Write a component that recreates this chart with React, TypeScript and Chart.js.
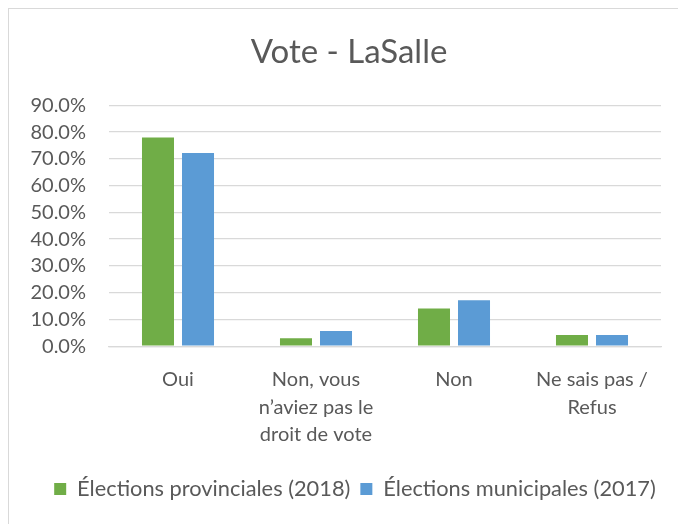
import React, { useEffect, useRef } from "react";
import { Chart, registerables } from "chart.js";

Chart.register(...registerables);

const categories: (string | string[])[] = [
  "Oui",
  ["Non, vous", "n’aviez pas le", "droit de vote"],
  "Non",
  ["Ne sais pas /", "Refus"],
];
const provinciales2018 = [78.0, 3.0, 14.1, 4.2];
const municipales2017 = [72.2, 5.7, 17.2, 4.2];
const seriesNames = ["Élections provinciales (2018)", "Élections municipales (2017)"];
const yTicksMax = 90;
const yStep = 10;

const FONT = "Lato";
const TEXT = "#595959";
const GRID = "#D9D9D9";

const legendShift = {
  id: "legendShift",
  afterLayout(chart: any) {
    const lg = chart.legend;
    if (lg) {
      lg.left += 6;
      lg.right += 6;
    }
  },
};

export default function App() {
  const ref = useRef<HTMLCanvasElement | null>(null);
  useEffect(() => {
    document.documentElement.style.overflow = "hidden";
    document.body.style.overflow = "hidden";
    if (!ref.current) return;
    const chart = new Chart(ref.current, {
      type: "bar",
      data: {
        labels: categories,
        datasets: [
          {
            label: seriesNames[0],
            data: provinciales2018,
            backgroundColor: "#70AD47",
            categoryPercentage: 0.58,
            barPercentage: 0.8,
          },
          {
            label: seriesNames[1],
            data: municipales2017,
            backgroundColor: "#5B9BD5",
            categoryPercentage: 0.58,
            barPercentage: 0.8,
          },
        ],
      },
      plugins: [legendShift],
      options: {
        animation: false,
        responsive: false,
        maintainAspectRatio: false,
        layout: { padding: { left: 0, right: 0, top: 0, bottom: 19 } },
        plugins: {
          tooltip: { enabled: false },
          title: {
            display: true,
            text: "Vote - LaSalle",
            color: TEXT,
            font: { family: FONT, size: 33, weight: "normal", lineHeight: 1.2 },
            padding: { top: 23.2, bottom: 33.5 },
          },
          legend: {
            position: "bottom",
            labels: {
              color: TEXT,
              font: { family: FONT, size: 21.8 },
              boxWidth: 12,
              boxHeight: 12,
              padding: 10,
            },
          },
        },
        scales: {
          x: {
            grid: { display: false, drawTicks: false },
            border: { display: true, color: GRID, width: 1.3 },
            ticks: {
              color: TEXT,
              font: { family: FONT, size: 20, lineHeight: 1.375 },
              padding: 20,
              maxRotation: 0,
              autoSkip: false,
            },
            afterFit: (scale: any) => {
              scale.height = 122;
            },
          },
          y: {
            min: 0,
            max: yTicksMax,
            grid: { color: GRID, lineWidth: 1.3, drawTicks: false },
            border: { display: false },
            ticks: {
              stepSize: yStep,
              autoSkip: false,
              color: TEXT,
              font: { family: FONT, size: 20 },
              padding: 23,
              callback: (v: any) => Number(v).toFixed(1) + "%",
            },
            afterFit: (scale: any) => {
              scale.width = 100;
            },
          },
          yRightSpace: {
            type: "linear",
            position: "right",
            display: true,
            grid: { display: false, drawTicks: false },
            border: { display: false },
            ticks: { display: false },
            afterFit: (scale: any) => {
              scale.width = 28;
            },
          },
        },
      },
    });
    return () => chart.destroy();
  }, []);
  return (
    <div
      style={{
        position: "fixed",
        left: 8,
        top: 8,
        right: 0,
        bottom: 0,
        overflow: "hidden",
        borderTop: "1px solid #D9D9D9",
        borderLeft: "1px solid #D9D9D9",
        background: "#fff",
      }}
    >
      <canvas ref={ref} width={680} height={520} style={{ display: "block" }} />
    </div>
  );
}
